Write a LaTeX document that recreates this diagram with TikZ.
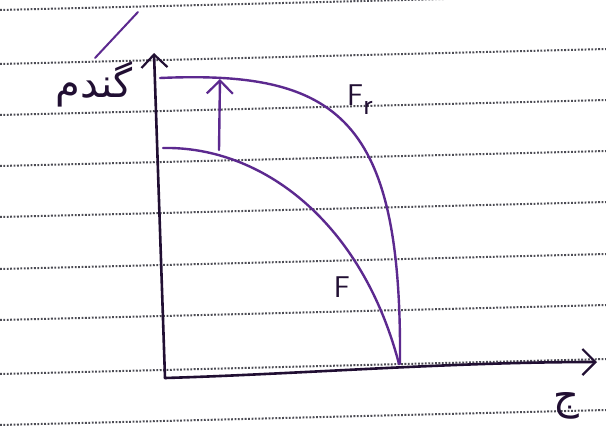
\documentclass[tikz,border=0pt]{standalone}
\usepackage{fontspec}
\usetikzlibrary{arrows.meta}
\TeXXeTstate=1
\newfontfamily\arabicfont[Script=Arabic]{DejaVu Sans}
\definecolor{ink}{rgb}{0.13,0.06,0.20}
\definecolor{pink}{rgb}{0.36,0.16,0.56}
\definecolor{dots}{rgb}{0.30,0.30,0.33}
\tikzset{
  paperline/.style={dots, line width=2pt, dash pattern=on 1.8pt off 1.6pt},
  axisline/.style={ink, line width=2.6pt, line cap=round, line join=round},
  curveline/.style={pink, line width=2.4pt, line cap=round},
  vhead/.style={-{Straight Barb[length=13pt,width=26pt,line width=2.2pt]}},
  hand/.style={font=\sffamily\fontsize{30}{30}\selectfont, text=ink, inner sep=0pt},
  farsi/.style={font=\arabicfont\fontsize{40}{44}\selectfont, text=ink, inner sep=0pt}
}
\begin{document}
\begin{tikzpicture}[x=1pt,y=-1pt]
\useasboundingbox (0,0) rectangle (606,437);
\fill[white] (0,0) rectangle (606,437);
% ruled paper
\begin{scope}
\clip (0,0) rectangle (606,437);
\foreach \y in {10,64,115,166,217,269,320,374,425}{
  \draw[paperline] (0,\y) -- (606,\y-15);
}
\end{scope}
% coordinates
\coordinate (O) at (165,378);
\coordinate (ytop) at (154,53);
\coordinate (xend) at (597,362);
\coordinate (R0) at (160,78);
\coordinate (R1) at (400,364);
\coordinate (F0) at (163,148);
\coordinate (F1) at (399,364);
\coordinate (u0) at (219,150);
\coordinate (u1) at (220,79);
\coordinate (s0) at (95,58);
\coordinate (s1) at (138,12);
% axes
\draw[axisline, vhead] (O) -- (ytop);
\draw[axisline, vhead] (O) .. controls (300,374) and (450,362) .. (xend);
% curves
\draw[curveline] (R0) .. controls (340,70) and (402,120) .. (R1);
\draw[curveline] (F0) .. controls (262,146) and (362,222) .. (F1);
\draw[curveline, vhead] (u0) -- (u1);
% labels
\node[hand] (fr) at (360,100) {F\raisebox{-0.3em}{r}};
\node[hand] (f) at (342,287) {F};
\node[farsi] (gandom) at (94,84) {\beginR گندم\endR};
\draw[pink, line width=2pt, line cap=round] (s0) -- (s1);
\node[farsi] (jow) at (566,406) {\beginR ج\endR};
\end{tikzpicture}
\end{document}
